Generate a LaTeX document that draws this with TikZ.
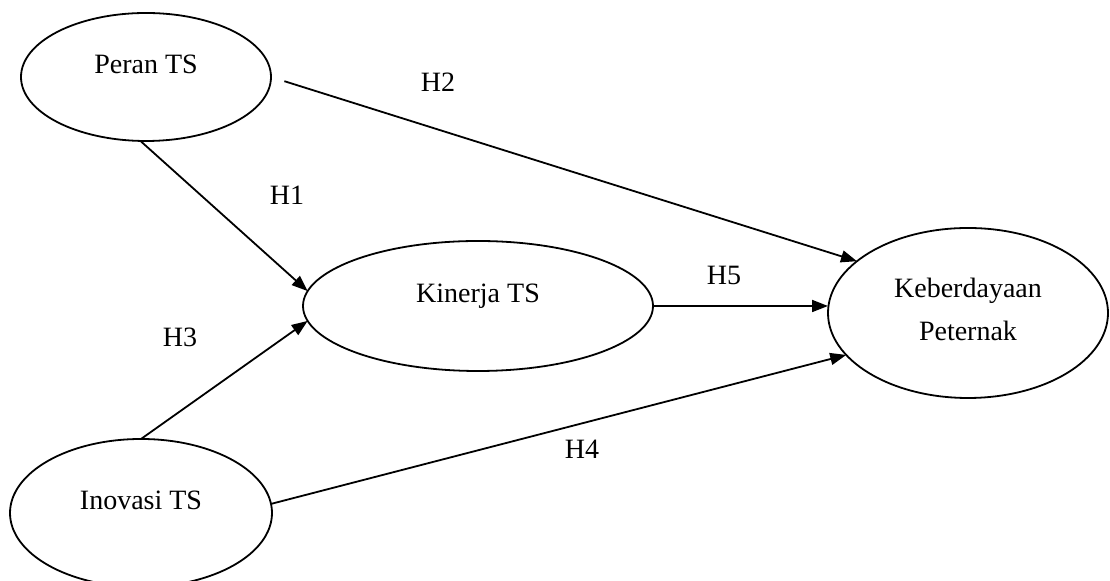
\documentclass[tikz,border=0pt]{standalone}
\usepackage{fontspec}
\setmainfont{Liberation Serif}
\usetikzlibrary{shapes.geometric,arrows.meta}
\begin{document}
\begin{tikzpicture}[x=0.5pt,y=-0.5pt,
  var/.style={draw, ellipse, line width=0.9pt, inner sep=0pt, outer sep=0pt,
    font=\fontsize{14}{21.5}\selectfont, text height=10pt, text depth=13.5pt},
  hyp/.style={font=\fontsize{14}{16}\selectfont, inner sep=0pt},
  link/.style={line width=0.9pt, -{Triangle[length=8pt,width=6pt]}}]
\clip (0,0) rectangle (1110,581);
\node[var, minimum width=125pt, minimum height=64pt] (peran) at (146,77) {Peran TS};
\node[var, minimum width=175pt, minimum height=65pt] (kin) at (478,306) {Kinerja TS};
\node[var, minimum width=140pt, minimum height=85pt, align=center,
      text height=, text depth=4pt] (keb) at (968,313) {Keberdayaan\\Peternak};
\node[var, minimum width=131pt, minimum height=74pt] (ino) at (141,513) {Inovasi TS};
\node[hyp] (h1) at (287,195) {H1};
\node[hyp] (h2) at (438,82) {H2};
\node[hyp] (h3) at (180,337) {H3};
\node[hyp] (h4) at (582,449) {H4};
\node[hyp] (h5) at (724,275) {H5};
\draw[link, shorten <=7pt] (peran.east) -- (keb.155);
\draw[link] (peran.265) -- (kin.175);
\draw[link] (ino.north) -- (kin.185);
\draw[link] (kin.east) -- (kin.east -| keb.west);
\draw[link] (ino.4) -- (keb.199);
\end{tikzpicture}
\end{document}
